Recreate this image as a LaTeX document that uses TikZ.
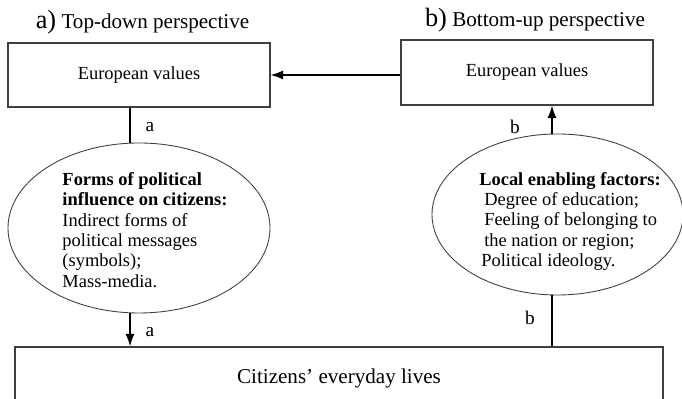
\documentclass[tikz,border=0pt]{standalone}
\usepackage{fontspec}
\setmainfont{Liberation Serif}
\usetikzlibrary{positioning,shapes,arrows.meta}

\begin{document}
\begin{tikzpicture}[>={Latex[length=7.2pt,width=5.2pt]},
    valbox/.style={draw=black!75, line width=0.6pt, minimum width=5.24cm,
      minimum height=1.28cm, font=\fontsize{10.5}{12}\selectfont},
    factors/.style={draw=black!75, line width=0.5pt, ellipse, inner sep=0pt},
    factortxt/.style={align=left, inner sep=0pt, font=\fontsize{10.5}{11.6}\selectfont},
    lbl/.style={inner sep=0pt, font=\fontsize{11}{12}\selectfont},
    ttl/.style={inner sep=0pt, font=\fontsize{12}{14}\selectfont},
    conn/.style={line width=0.85pt}]
  \useasboundingbox (0,0) rectangle (13.64,-7.98);
  \clip (0,0) rectangle (13.64,-7.98);

  % titles
  \node[ttl] (ttlA) at (2.85,-0.45) {{\fontsize{15}{15}\selectfont a)} Top-down perspective};
  \node[ttl] (ttlB) at (10.7,-0.4) {{\fontsize{15}{15}\selectfont b)} Bottom-up perspective};

  % boxes
  \node[valbox] (evL) at (2.78,-1.5) {European values};
  \node[valbox, minimum width=5.04cm, minimum height=1.3cm] (evR) at (10.54,-1.45) {European values};
  \node[draw=black!75, line width=0.6pt, minimum width=12.96cm, minimum height=1.26cm,
    font=\fontsize{12}{14}\selectfont] (lives) at (6.78,-7.57) {Citizens' everyday lives};

  % ellipses
  \node[factors, minimum width=5.24cm, minimum height=3.4cm] (fL) at (2.78,-4.56) {};
  \node[factortxt] (fLtxt) at (2.9,-4.6) {\textbf{Forms of political}\\
    \textbf{influence on citizens:}\\
    Indirect forms of\\
    political messages\\
    (symbols);\\
    Mass-media.};
  \node[factors, minimum width=5.02cm, minimum height=3.22cm] (fR) at (11.15,-4.29) {};
  \node[factortxt] (fRtxt) at (11.4,-4.43) {\textbf{Local enabling factors:}\\
    \hspace*{0.1cm}Degree of education;\\
    \hspace*{0.1cm}Feeling of belonging to\\
    \hspace*{0.1cm}the nation or region;\\
    \hspace*{0.04cm}Political ideology.};

  % connectors
  \coordinate (ax) at (2.6,0);
  \coordinate (bx) at (11.04,0);
  \draw[conn, ->] (evR.west |- evL.east) -- (evL.east);
  \draw[conn] (evL.south -| ax) -- (fL.north -| ax);
  \draw[conn, ->] (fL.south -| ax) -- (lives.north -| ax);
  \draw[conn] (lives.north -| bx) -- (fR.south -| bx);
  \draw[conn, ->] (fR.north -| bx) -- (evR.south -| bx);

  % labels
  \node[lbl] (la1) at (3.0,-2.54) {a};
  \node[lbl] (la2) at (3.0,-6.64) {a};
  \node[lbl] (lb1) at (10.3,-2.54) {b};
  \node[lbl] (lb2) at (10.6,-6.36) {b};
\end{tikzpicture}
\end{document}
